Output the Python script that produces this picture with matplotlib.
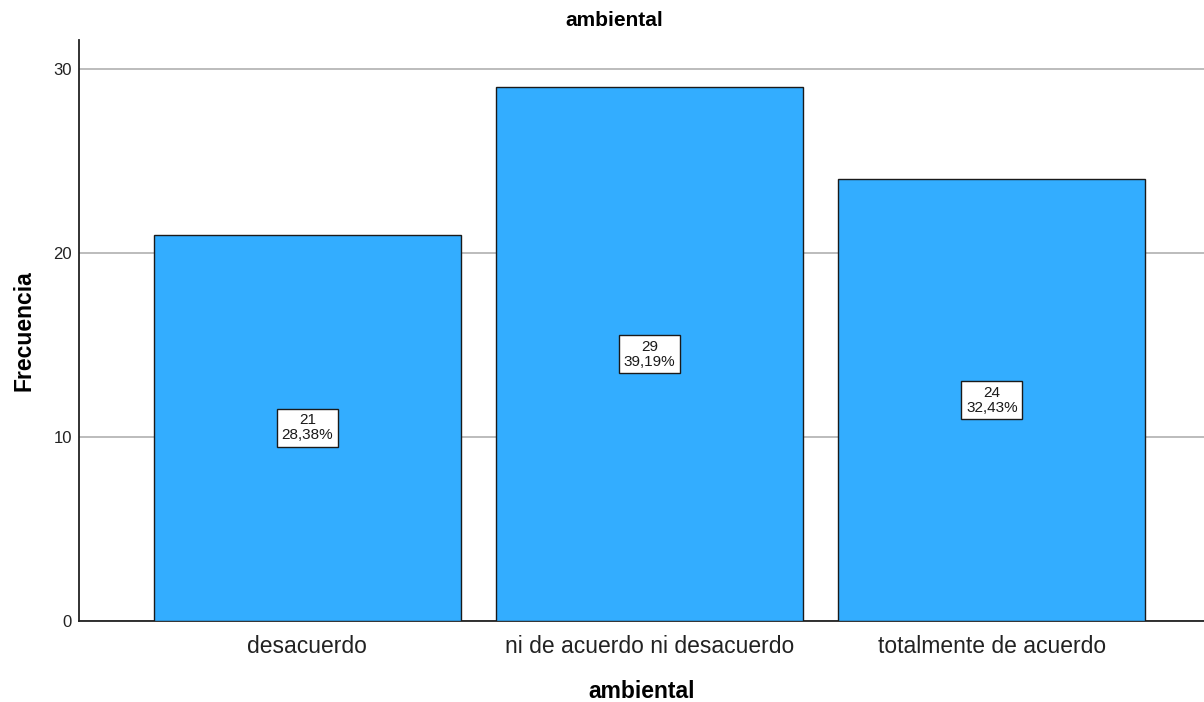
import matplotlib
matplotlib.use("Agg")
import matplotlib.pyplot as plt

categories = ["desacuerdo", "ni de acuerdo ni desacuerdo", "totalmente de acuerdo"]
counts = [21, 29, 24]
percents = ["28,38%", "39,19%", "32,43%"]
yticks = [0, 10, 20, 30]

plt.rcParams['font.family'] = ['Liberation Sans', 'DejaVu Sans']

fig = plt.figure(figsize=(12.04, 7.02), dpi=100)
ax = fig.add_axes([79/1204, 81/702, 1 - 79/1204, (621-40)/702])

x = list(range(len(categories)))
ax.bar(x, counts, width=0.898, color="#33adff", edgecolor="#1a1a1a", linewidth=1.0, zorder=3)

for xi, c, p in zip(x, counts, percents):
    ax.text(xi, c/2, f"{c}\n{p}", ha="center", va="center", fontsize=11, color="#1a1a1a",
            linespacing=1.1, zorder=5,
            bbox=dict(boxstyle="square,pad=0.3", facecolor="white", edgecolor="#1a1a1a", linewidth=1))

ax.set_xlim(-0.667, 2.62)
ax.set_ylim(0, 31.58)
ax.set_yticks(yticks)
ax.set_xticks(x)
ax.set_xticklabels(categories, fontsize=16.5, color="#222222")
ax.tick_params(axis="y", length=0, labelsize=12, pad=5, colors="#222222")
ax.tick_params(axis="x", length=0, pad=10)
ax.yaxis.grid(True, color="#b0b0b0", linewidth=1.2, zorder=0)
ax.set_axisbelow(True)
for s in ["top", "right"]:
    ax.spines[s].set_visible(False)
ax.spines["left"].set_linewidth(1.3)
ax.spines["bottom"].set_linewidth(1.3)
ax.spines["left"].set_color("#222222")
ax.spines["bottom"].set_color("#222222")

ax.set_ylabel("Frecuencia", fontsize=16.5, fontweight="bold", labelpad=13)
ax.set_xlabel("ambiental", fontsize=16.5, fontweight="bold", labelpad=16)
fig.text(614/1204, 1 - 21/702, "ambiental", ha="center", va="center", fontsize=15, fontweight="bold")

fig.savefig("out.png", dpi=100, facecolor="white")
